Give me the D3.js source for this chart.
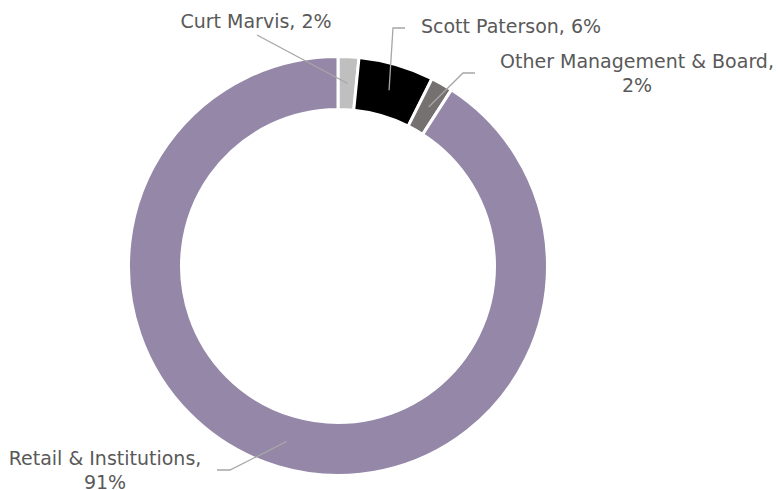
<!DOCTYPE html>
<html>
<head>
<meta charset="utf-8">
<script src="https://cdn.jsdelivr.net/npm/d3@7"></script>
<style>
    body { margin: 0; background: #fff; }
    text { font-family: "DejaVu Sans", Verdana, sans-serif; font-size: 19px; fill: #595959; }
    .leader { fill: none; stroke: #a6a6a6; stroke-width: 1.3; }
</style>
</head>
<body>
<svg width="778" height="490"></svg>
<script>
// Shareholder breakdown, clockwise from 12 o'clock
var holders = ['Curt Marvis', 'Scott Paterson', 'Other Management & Board', 'Retail & Institutions'];
var shares = [0.016, 0.058, 0.017, 0.909];
var colors = ['#bfbfbf', '#000000', '#767171', '#9587a8'];

// Label text lines (Excel wraps the long ones)
var labelLines = [
    ['Curt Marvis, '],
    ['Scott Paterson, '],
    ['Other Management & Board,', ''],
    ['Retail & Institutions,', '']
];

var svg = d3.select('svg');
var cx = 338, cy = 266;
var outerR = 209.5, innerR = 156.5;

var chartG = svg.append('g')
    .attr('transform', 'translate(' + [cx, cy] + ')');

var pie = d3.pie().sort(null).value(function(d){ return d; });
var arc = d3.arc().innerRadius(innerR).outerRadius(outerR);
var arcs = pie(shares);
var fmt = d3.format('.0%');

chartG.selectAll('.slice')
    .data(arcs)
    .enter()
    .append('path')
    .attr('class', 'slice')
    .attr('d', arc)
    .attr('fill', function(d, i){ return colors[i]; })
    .attr('stroke', '#fff')
    .attr('stroke-width', 3);

// Label placement relative to the centre: text anchor point, and the elbow of the leader line
var labelLayout = [
    {x: -82, y: -238, lead: [[-81, -231]]},
    {x: 173, y: -233, anchor: 'middle', lead: [[67, -238], [55, -238]]},
    {x: 299, y: -198, lead: [[137, -193], [125, -193]]},
    {x: -233, y: 199, lead: [[-121, 204], [-108, 204]]}
];

arcs.forEach(function(d, i){
    var lay = labelLayout[i];
    var c = arc.centroid(d);
    var pts = lay.lead.concat([c]);
    chartG.append('path')
        .attr('class', 'leader')
        .attr('d', d3.line()(pts));

    var lines = labelLines[i].slice();
    if (lines.length === 1) lines[0] = lines[0] + fmt(shares[i]);
    else lines[1] = fmt(shares[i]);

    var t = chartG.append('text')
        .attr('text-anchor', 'middle')
        .attr('transform', 'translate(' + [lay.x, lay.y] + ')');
    lines.forEach(function(s, j){
        t.append('tspan')
            .attr('x', 0)
            .attr('y', j * 24)
            .text(s);
    });
});
</script>
</body>
</html>
